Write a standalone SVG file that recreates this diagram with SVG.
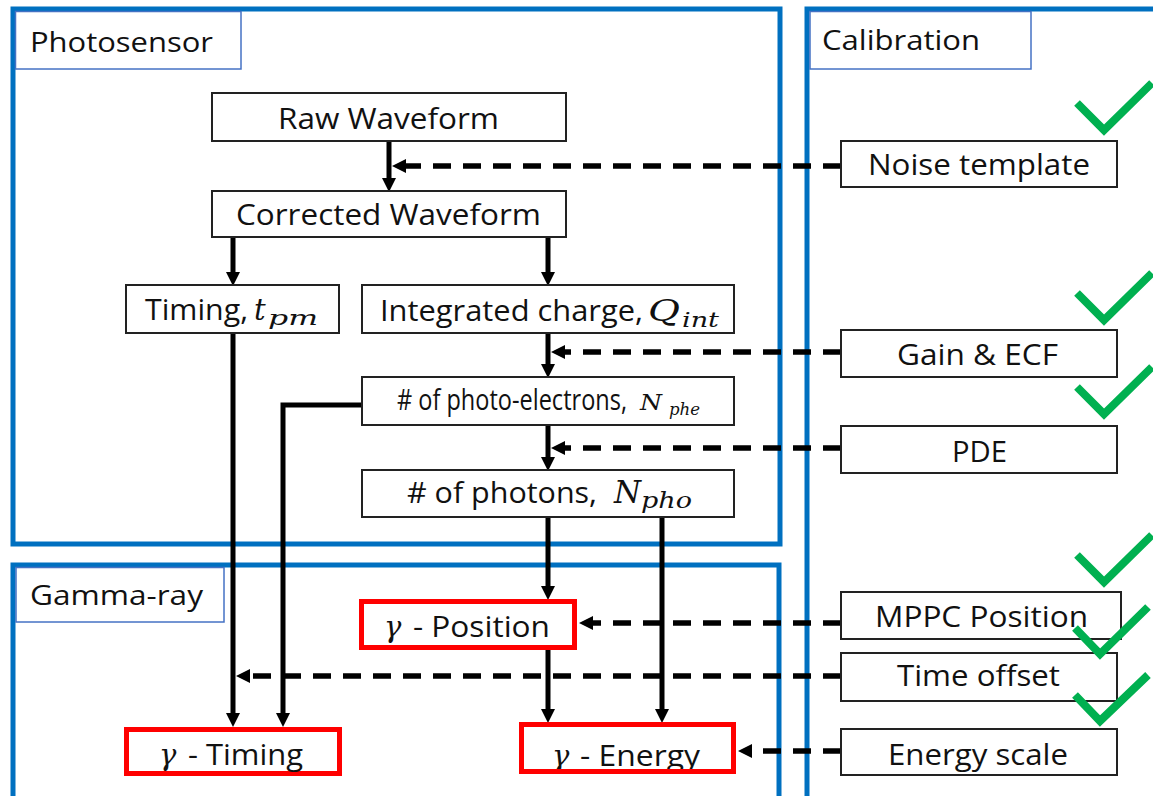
<svg xmlns="http://www.w3.org/2000/svg" width="1153" height="796" viewBox="0 0 1153 796">
<defs>
<style>
.panel{fill:none;stroke:#0070C0;stroke-width:5}
.lbl{fill:#fff;stroke:#4472C4;stroke-width:1.5}
.box{fill:#fff;stroke:#222;stroke-width:2}
.rbox{fill:#fff;stroke:#FF0000;stroke-width:5}
.t{font-family:"Open Sans","Liberation Sans",sans-serif;fill:#111;font-size:29px}
.ttl{font-family:"Open Sans","Liberation Sans",sans-serif;fill:#111;font-size:28px}
.m{font-family:"DejaVu Serif","Liberation Serif",serif;font-style:italic;fill:#111}
.c{fill:none;stroke:#000;stroke-width:5}
.d{fill:none;stroke:#000;stroke-width:5.5;stroke-dasharray:18 12}
.chk{fill:none;stroke:#00B050;stroke-width:8}
</style>
<marker id="ah" viewBox="0 0 14 14" refX="0" refY="7" markerWidth="14" markerHeight="14" markerUnits="userSpaceOnUse" orient="auto">
<path d="M0,0 L14,7 L0,14 z" fill="#000"/>
</marker>
</defs>
<rect width="1153" height="796" fill="#fff"/>

<g id="panel-photosensor">
<rect class="panel" x="13" y="9" width="767" height="535"/>
<rect class="lbl" x="15.5" y="11.5" width="225.5" height="57.5"/>
<text class="ttl" x="30" y="52" textLength="183" lengthAdjust="spacingAndGlyphs">Photosensor</text>
</g>
<g id="panel-calibration">
<rect class="panel" x="807" y="9" width="400" height="820"/>
<rect class="lbl" x="810" y="11.5" width="221" height="57.5"/>
<text class="ttl" x="822" y="50" textLength="158" lengthAdjust="spacingAndGlyphs">Calibration</text>
</g>
<g id="panel-gamma">
<rect class="panel" x="13" y="565" width="766" height="260"/>
<rect class="lbl" x="16" y="567.5" width="208" height="54.5"/>
<text class="ttl" x="30" y="605" textLength="173" lengthAdjust="spacingAndGlyphs">Gamma-ray</text>
</g>

<g id="connectors">
<path class="c" d="M389,141 V178" marker-end="url(#ah)"/>
<path class="c" d="M233,237 V272" marker-end="url(#ah)"/>
<path class="c" d="M548,237 V272" marker-end="url(#ah)"/>
<path class="c" d="M548,333 V364" marker-end="url(#ah)"/>
<path class="c" d="M548,425 V457" marker-end="url(#ah)"/>
<path class="c" d="M233,333 V713" marker-end="url(#ah)"/>
<path class="c" d="M362,405 H283 V713" marker-end="url(#ah)"/>
<path class="c" d="M548,517 V586" marker-end="url(#ah)"/>
<path class="c" d="M548,650 V709" marker-end="url(#ah)"/>
<path class="c" d="M662,517 V709" marker-end="url(#ah)"/>
<path class="d" d="M841,166 H406" marker-end="url(#ah)"/>
<path class="d" d="M841,352 H565" marker-end="url(#ah)"/>
<path class="d" d="M841,448 H565" marker-end="url(#ah)"/>
<path class="d" d="M841,623 H593" marker-end="url(#ah)"/>
<path class="d" d="M841,676 H250" marker-end="url(#ah)"/>
<path class="d" d="M841,751 H752" marker-end="url(#ah)"/>
</g>

<g id="raw-waveform">
<rect class="box" x="212" y="93" width="354" height="48"/>
<text class="t" x="278" y="129" textLength="221" lengthAdjust="spacingAndGlyphs">Raw Waveform</text>
</g>
<g id="corrected-waveform">
<rect class="box" x="212" y="191" width="354" height="46"/>
<text class="t" x="236" y="225" textLength="305" lengthAdjust="spacingAndGlyphs">Corrected Waveform</text>
</g>
<g id="timing">
<rect class="box" x="126" y="285" width="213" height="48"/>
<text class="t" x="145" y="320" textLength="103" lengthAdjust="spacingAndGlyphs">Timing,</text>
<text class="m" x="254" y="320" font-size="29">t</text>
<text class="m" x="268" y="325" font-size="21" textLength="50" lengthAdjust="spacingAndGlyphs">pm</text>
</g>
<g id="integrated-charge">
<rect class="box" x="362" y="285" width="372" height="48"/>
<text class="t" x="380" y="321" textLength="263" lengthAdjust="spacingAndGlyphs">Integrated charge,</text>
<text class="m" x="648" y="321" font-size="30" textLength="32" lengthAdjust="spacingAndGlyphs">Q</text>
<text class="m" x="682" y="327" font-size="21" textLength="37" lengthAdjust="spacingAndGlyphs">int</text>
</g>
<g id="photo-electrons">
<rect class="box" x="362" y="377" width="372" height="48"/>
<text class="t" x="397" y="410" font-size="21" textLength="230" lengthAdjust="spacingAndGlyphs"># of photo-electrons,</text>
<text class="m" x="640" y="410" font-size="23" textLength="22" lengthAdjust="spacingAndGlyphs">N</text>
<text class="m" x="669" y="415" font-size="16" textLength="31" lengthAdjust="spacingAndGlyphs">phe</text>
</g>
<g id="photons">
<rect class="box" x="362" y="470" width="372" height="47"/>
<text class="t" x="407" y="503" textLength="190" lengthAdjust="spacingAndGlyphs"># of photons,</text>
<text class="m" x="614" y="503" font-size="32" textLength="27" lengthAdjust="spacingAndGlyphs">N</text>
<text class="m" x="641" y="508" font-size="23" textLength="51" lengthAdjust="spacingAndGlyphs">pho</text>
</g>

<g id="gamma-position">
<rect class="rbox" x="361.5" y="601.5" width="213" height="46"/>
<text class="m" x="384" y="637" font-size="29">γ</text>
<text class="t" x="413" y="637" textLength="137" lengthAdjust="spacingAndGlyphs">- Position</text>
</g>
<g id="gamma-timing">
<rect class="rbox" x="126.5" y="729.5" width="213" height="44"/>
<text class="m" x="159" y="765" font-size="29">γ</text>
<text class="t" x="188" y="765" textLength="115" lengthAdjust="spacingAndGlyphs">- Timing</text>
</g>
<g id="gamma-energy">
<rect class="rbox" x="521.5" y="724.5" width="212" height="47"/>
<text class="m" x="552" y="766" font-size="29">γ</text>
<text class="t" x="580" y="766" textLength="120" lengthAdjust="spacingAndGlyphs">- Energy</text>
<rect x="521.5" y="724.5" width="212" height="47" fill="none" stroke="#FF0000" stroke-width="5"/>
</g>

<g id="noise-template">
<rect class="box" x="841" y="141" width="276" height="46"/>
<text class="t" x="868" y="175" textLength="222" lengthAdjust="spacingAndGlyphs">Noise template</text>
</g>
<g id="gain-ecf">
<rect class="box" x="841" y="330" width="276" height="47"/>
<text class="t" x="897" y="365" textLength="161" lengthAdjust="spacingAndGlyphs">Gain &amp; ECF</text>
</g>
<g id="pde">
<rect class="box" x="841" y="426" width="276" height="47"/>
<text class="t" x="952" y="462" textLength="55" lengthAdjust="spacingAndGlyphs">PDE</text>
</g>
<g id="mppc-position">
<rect class="box" x="841" y="592" width="280" height="47"/>
<text class="t" x="875" y="627" textLength="213" lengthAdjust="spacingAndGlyphs">MPPC Position</text>
</g>
<g id="time-offset">
<rect class="box" x="841" y="653" width="276" height="48"/>
<text class="t" x="897" y="686" textLength="163" lengthAdjust="spacingAndGlyphs">Time offset</text>
</g>
<g id="energy-scale">
<rect class="box" x="841" y="729" width="276" height="46"/>
<text class="t" x="888" y="765" textLength="180" lengthAdjust="spacingAndGlyphs">Energy scale</text>
</g>

<g id="checks">
<polyline class="chk" points="1077,103 1104,130 1152,83"/>
<polyline class="chk" points="1077,293 1104,320 1152,273"/>
<polyline class="chk" points="1077,387 1104,414 1152,367"/>
<polyline class="chk" points="1077,555 1104,582 1152,535"/>
<polyline class="chk" points="1075,628 1100,654 1148,607"/>
<polyline class="chk" points="1075,695 1100,721 1148,675"/>
</g>
</svg>
